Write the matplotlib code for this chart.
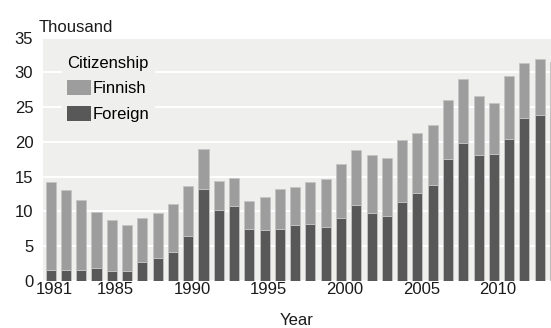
import matplotlib
matplotlib.use("Agg")
import matplotlib.pyplot as plt
import matplotlib.transforms as mtransforms

plt.rcParams['font.family'] = ['Liberation Sans Narrow', 'Liberation Sans', 'DejaVu Sans']

# Immigration by citizenship, thousands
years = list(range(1981, 2015))
total = [14.2, 13.1, 11.6, 9.9, 8.8, 8.0, 9.1, 9.8, 11.1, 13.6,
         18.95, 14.45, 14.78, 11.53, 12.15, 13.25, 13.54, 14.2, 14.69, 16.85,
         18.82, 18.1, 17.76, 20.25, 21.3, 22.41, 26.0, 29.13, 26.68, 25.58,
         29.47, 31.3, 31.92, 31.44]
foreign = [1.63, 1.63, 1.63, 1.8, 1.5, 1.5, 2.8, 3.25, 4.1, 6.44,
           13.25, 10.24, 10.77, 7.51, 7.37, 7.51, 8.09, 8.27, 7.84, 9.13,
           11.0, 9.85, 9.42, 11.43, 12.63, 13.83, 17.5, 19.86, 18.08, 18.27,
           20.43, 23.46, 23.89, 23.7]
finnish = [t - f for t, f in zip(total, foreign)]
xtick_years = [1981, 1985, 1990, 1995, 2000, 2005, 2010]
yticks = [0, 5, 10, 15, 20, 25, 30, 35]

col_finnish = '#9d9d9d'
col_foreign = '#585858'
bg = '#efefee'

fig = plt.figure(figsize=(5.51, 3.28), dpi=100)
ax = fig.add_axes([43 / 551, 1 - 281 / 328, 508 / 551, 243.3 / 328])
ax.set_facecolor(bg)

ax.bar(years, foreign, width=0.66, color=col_foreign, edgecolor='#c4c4c4',
       linewidth=0.6, label='Foreign', zorder=3)
ax.bar(years, finnish, width=0.66, bottom=foreign, color=col_finnish,
       edgecolor='#c4c4c4', linewidth=0.6, label='Finnish', zorder=3)

ax.set_xlim(1980.5, 2013.74)
ax.set_ylim(0, 35)
ax.set_yticks(yticks)
ax.set_xticks(xtick_years)
ax.grid(axis='y', color='white', linewidth=1.4, zorder=1)
ax.set_axisbelow(True)
for s in ax.spines.values():
    s.set_visible(False)
ax.tick_params(axis='both', length=0, labelsize=12, colors='#1a1a1a')
ax.tick_params(axis='y', pad=7)
ax.tick_params(axis='x', pad=1)

# labels sit a few pixels right of the bar centres in the original
offset = mtransforms.ScaledTranslation(4 / 100, 0, fig.dpi_scale_trans)
for lab in ax.get_xticklabels():
    lab.set_transform(lab.get_transform() + offset)

ax.set_xlabel('Year', fontsize=12, labelpad=11, color='#1a1a1a')
fig.text(39 / 551, 1 - 32 / 328, 'Thousand', fontsize=12, va='baseline',
         ha='left', color='#1a1a1a')

handles, labels = ax.get_legend_handles_labels()
leg = ax.legend(handles[::-1], labels[::-1], title='Citizenship',
                loc='upper left', bbox_to_anchor=(0.038, 0.946),
                frameon=True, facecolor=bg, edgecolor=bg, framealpha=1,
                fontsize=12, title_fontsize=12, alignment='left',
                handlelength=1.45, handleheight=1.05, handletextpad=0.05,
                labelspacing=0.55, borderpad=0.3, borderaxespad=0)
leg.set_zorder(4)
for h in leg.legend_handles:
    h.set_edgecolor('none')

fig.savefig('out.png', dpi=100)
